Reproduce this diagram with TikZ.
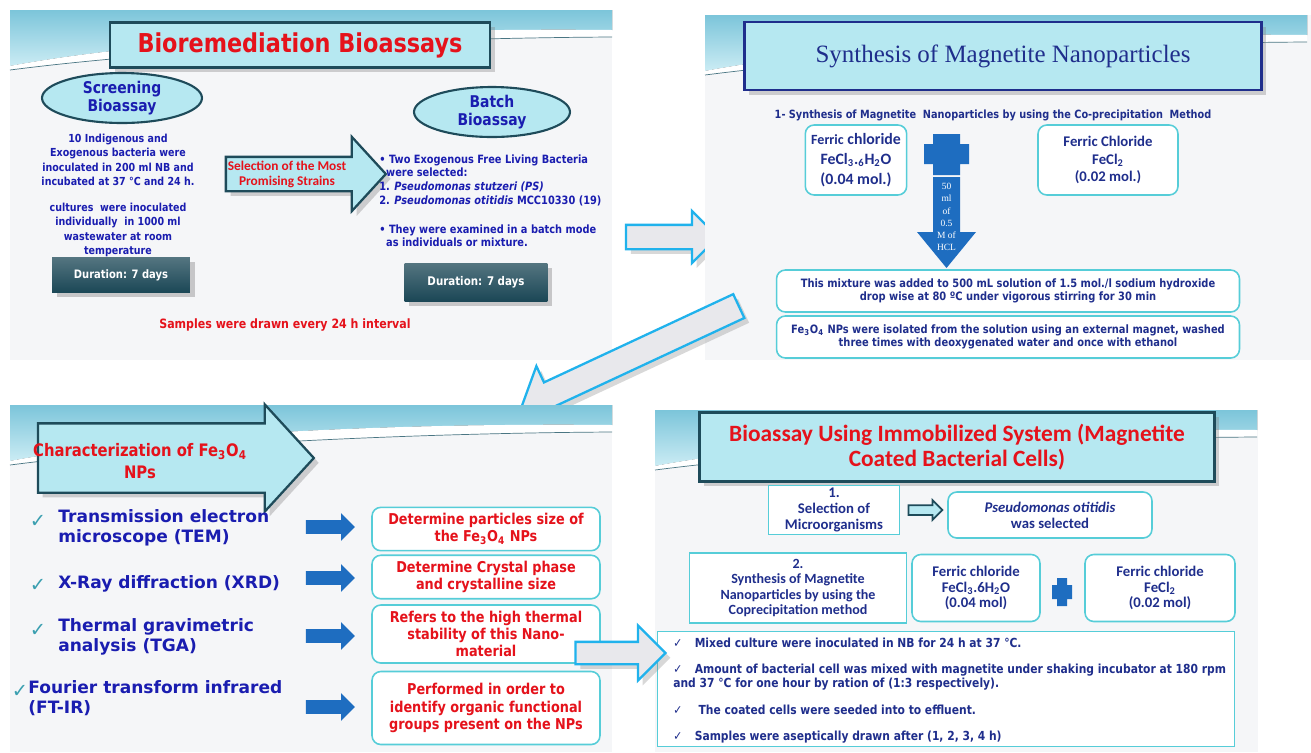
\documentclass[tikz,border=0pt]{standalone}
\usepackage{fontspec}
\setmainfont{DejaVu Sans}
\newfontfamily\tahfont[FakeStretch=0.86]{DejaVu Sans}
\newfontfamily\verfont{DejaVu Sans}
\newfontfamily\calfont{Carlito}
\newfontfamily\camfont{Liberation Serif}
\usetikzlibrary{shapes.geometric,shapes.arrows,shadows}

\definecolor{panelgray}{HTML}{F5F6F8}
\definecolor{wavetop}{HTML}{7CC5DA}
\definecolor{wavebot}{HTML}{CBECF4}
\definecolor{titlecyan}{HTML}{B6E8F1}
\definecolor{darkteal}{HTML}{1E4B5A}
\definecolor{durteal}{HTML}{1B4756}
\definecolor{boxcyan}{HTML}{56CDD8}
\definecolor{textblue}{HTML}{1A1DB0}
\definecolor{navyblue}{HTML}{1F2E8C}
\definecolor{textred}{HTML}{E5121B}
\definecolor{arrowblue}{HTML}{1E6DC0}
\definecolor{arrowgray}{HTML}{E8E8EC}
\definecolor{arrowcyan}{HTML}{20B2EC}
\definecolor{checkteal}{HTML}{3A9FB0}

\newcommand\tahsize[2]{\tahfont\bfseries\fontsize{#1}{#2}\selectfont}
\newcommand\versize[2]{\verfont\bfseries\fontsize{#1}{#2}\selectfont}
\newcommand\calsize[2]{\calfont\bfseries\fontsize{#1}{#2}\selectfont}
\newcommand\camsize[2]{\camfont\fontsize{#1}{#2}\selectfont}

% wave band on top of each slide
\newcommand\panelwave[1]{%
\begin{scope}[shift={#1}]
\fill[top color=wavetop, bottom color=wavebot] (0,0) -- (602,0) -- (602,20) .. controls (420,18) and (160,26) .. (0,56) -- cycle;
\fill[white] (0,56) .. controls (160,26) and (420,18) .. (602,20) -- (602,27) .. controls (420,28) and (170,38) .. (0,60) -- cycle;
\draw[wavetop!60!black, line width=0.4pt] (0,60) .. controls (170,38) and (420,28) .. (602,27);
\end{scope}}

\tikzset{
  panelbg/.style={fill=panelgray},
  titlebox/.style={draw=darkteal, line width=1.6pt, fill=titlecyan, align=center,
    drop shadow={opacity=0.35}},
  ovalbox/.style={ellipse, draw=darkteal, line width=1.2pt, fill=titlecyan, inner sep=0pt,
    text=textblue, align=center, font=\tahsize{9.2}{9.8}},
  durbox/.style={top color=durteal!75!white, bottom color=durteal, text=white, drop shadow={opacity=0.4}},
  infobox/.style={draw=boxcyan, line width=0.9pt, rounded corners=5pt, fill=white, align=center},
  sqbox/.style={draw=boxcyan, line width=0.9pt, fill=white, align=center},
  bluetxt/.style={text=textblue, align=center},
  redtxt/.style={text=textred, align=center},
  blockarrow/.style={single arrow, fill=arrowblue, inner sep=0.13cm,
    single arrow head extend=0.14cm, minimum height=0.98cm},
  hollowarrow/.style={single arrow, draw=arrowcyan, fill=arrowgray, line width=1.3pt,
    drop shadow={opacity=0.3}},
  cyanarrow/.style={single arrow, draw=darkteal, fill=titlecyan, line width=1.3pt,
    single arrow tip angle=95, inner xsep=0pt, drop shadow={opacity=0.35}},
}

\begin{document}
\begin{tikzpicture}[x=0.02cm,y=-0.02cm]
\useasboundingbox[fill=white] (0,0) rectangle (1311,752);

% slide 1: bioremediation bioassays
\fill[panelbg] (10,10) rectangle (612,360);
\panelwave{(10,10)}
\node[titlebox, minimum width=7.6cm, minimum height=0.9cm, text=textred, font=\tahsize{14.8}{16}] (bioTitle) at (300,45) {Bioremediation Bioassays};
\node[ovalbox, minimum width=3.2cm, minimum height=1cm] (screen) at (122,98) {Screening\\Bioassay};
\node[bluetxt, font=\tahsize{6.3}{8.2}] (screenTxt) at (118,160) {10 Indigenous and\\Exogenous bacteria were\\inoculated in 200 ml NB and\\incubated at 37 °C and 24 h.};
\node[bluetxt, font=\tahsize{6.3}{8.2}] (cultTxt) at (118,230) {cultures\ \ were inoculated\\individually\ \ in 1000 ml\\wastewater at room\\temperature};
\node[durbox, minimum width=2.76cm, minimum height=0.7cm, font=\tahsize{6.6}{7.5}] (dur1) at (121,275) {Duration: 7 days};
\node[cyanarrow, minimum height=3.2cm, inner ysep=0.32cm, single arrow head extend=0.4cm] (selArrow) at (298,174) {};
\node[redtxt, font=\calsize{7.6}{8.6}] (selTxt) at (287,174) {Selection of the Most\\Promising Strains};
\node[ovalbox, minimum width=3.12cm, minimum height=1cm] (batch) at (492,112) {Batch\\Bioassay};
\node[text=textblue, align=left, anchor=north west, inner sep=0pt, font=\tahsize{6.5}{7.9}] (batchTxtA) at (379,154) {• Two Exogenous Free Living Bacteria\\\hspace*{0.6em}were selected:\\1. \textit{Pseudomonas stutzeri (PS)}\\2. \textit{Pseudomonas otitidis} MCC10330 (19)};
\node[text=textblue, align=left, anchor=north west, inner sep=0pt, font=\tahsize{6.5}{7.9}] (batchTxtB) at (379,224) {• They were examined in a batch mode\\\hspace*{0.6em}as individuals or mixture.};
\node[durbox, minimum width=2.86cm, minimum height=0.76cm, font=\tahsize{6.8}{8}] (dur2) at (476,282) {Duration: 7 days};
\node[redtxt, font=\tahsize{7.3}{8}] (samplesTxt) at (285,325) {Samples were drawn every 24 h interval};

% arrow to slide 2
\node[hollowarrow, minimum height=1.84cm, inner sep=0.22cm, single arrow head extend=0.28cm] (arrA) at (666,237) {};

% slide 2: synthesis of magnetite
\fill[panelbg] (705,15) rectangle (1311,360);
\panelwave{(705,15)}
\node[titlebox, draw=navyblue, minimum width=10.34cm, minimum height=1.36cm, text=navyblue, font=\camsize{14.2}{16}] (synTitle) at (1003,56) {Synthesis of Magnetite Nanoparticles};
\node[text=navyblue, font=\tahsize{6.45}{7}] (synSub) at (993,115) {1- Synthesis of Magnetite\ \ Nanoparticles by using the Co-precipitation\ \ Method};
\node[infobox, minimum width=1.92cm, minimum height=1.4cm, text=navyblue, font=\calsize{9}{11.2}] (feThree) at (856,160) {{\fontsize{8}{11.2}\selectfont Ferric} chloride\\FeCl\textsubscript{3}.\textsubscript{6}H\textsubscript{2}O\\(0.04 mol.)};
\fill[arrowblue] (933,134) -- (960,134) -- (960,144) -- (969,144) -- (969,164) -- (960,164) -- (960,175) -- (933,175) -- (933,164) -- (924,164) -- (924,144) -- (933,144) -- cycle;
\fill[arrowblue] (933,177) -- (960,177) -- (960,232) -- (976,232) -- (946.5,268) -- (917,232) -- (933,232) -- cycle;
\node[text=white, align=center, font=\camsize{5.4}{6.9}] (hclTxt) at (946.5,217) {50\\ml\\of\\0.5\\M of\\HCL};
\node[infobox, minimum width=2.8cm, minimum height=1.4cm, text=navyblue, font=\calsize{8.4}{9.8}] (feTwo) at (1108,160) {Ferric Chloride\\FeCl\textsubscript{2}\\(0.02 mol.)};
\node[infobox, minimum width=9.26cm, minimum height=0.84cm, text=navyblue, font=\tahsize{6.55}{7.7}] (mixBox) at (1008,291) {This mixture was added to 500 mL solution of 1.5 mol./l sodium hydroxide\\drop wise at 80 ºC under vigorous stirring for 30 min};
\node[infobox, minimum width=9.26cm, minimum height=0.84cm, text=navyblue, font=\tahsize{6.55}{7.7}] (isoBox) at (1008,337) {Fe\textsubscript{3}O\textsubscript{4} NPs were isolated from the solution using an external magnet, washed\\three times with deoxygenated water and once with ethanol};

% arrow to slide 3
\node[hollowarrow, rotate=205, minimum height=4.8cm, inner sep=0.24cm, single arrow head extend=0.36cm] (arrB) at (636,354) {};

% slide 3: characterization
\fill[panelbg] (10,405) rectangle (612,752);
\panelwave{(10,405)}
\node[cyanarrow, minimum height=5.52cm, inner ysep=0.67cm, single arrow head extend=0.38cm] (charArrow) at (160,458) {};
\node[redtxt, font=\tahsize{9.8}{12.5}] (charTxt) at (140,461) {Characterization of Fe\textsubscript{3}O\textsubscript{4}\\NPs};
\node[text=checkteal, font=\versize{11}{12}] (chkA) at (38,521) {✓};
\node[text=checkteal, font=\versize{11}{12}] (chkB) at (38,585) {✓};
\node[text=checkteal, font=\versize{11}{12}] (chkC) at (38,630) {✓};
\node[text=checkteal, font=\versize{11}{12}] (chkD) at (20,691) {✓};
\node[text=textblue, align=left, anchor=north west, inner sep=0pt, font=\versize{9.7}{11.6}] (itemA) at (58,509) {Transmission electron\\microscope (TEM)};
\node[text=textblue, align=left, anchor=north west, inner sep=0pt, font=\versize{9.7}{11.6}] (itemB) at (58,575) {X-Ray diffraction (XRD)};
\node[text=textblue, align=left, anchor=north west, inner sep=0pt, font=\versize{9.7}{11.6}] (itemC) at (58,618) {Thermal gravimetric\\analysis (TGA)};
\node[text=textblue, align=left, anchor=north west, inner sep=0pt, font=\versize{9.7}{11.6}] (itemD) at (28,680) {Fourier transform infrared\\(FT-IR)};
\node[blockarrow] (bArA) at (327,527) {};
\node[blockarrow] (bArB) at (327,578) {};
\node[blockarrow] (bArC) at (327,636) {};
\node[blockarrow] (bArD) at (327,707) {};
\node[infobox, minimum width=4.56cm, minimum height=0.78cm, text=textred, font=\tahsize{8.5}{9.8}] (resA) at (486,529) {Determine particles size of\\the Fe\textsubscript{3}O\textsubscript{4} NPs};
\node[infobox, minimum width=4.56cm, minimum height=0.82cm, text=textred, font=\tahsize{8.5}{9.8}] (resB) at (486,577) {Determine Crystal phase\\and crystalline size};
\node[infobox, minimum width=4.56cm, minimum height=1.16cm, text=textred, font=\tahsize{8.5}{9.8}] (resC) at (486,634) {Refers to the high thermal\\stability of this Nano-\\material};
\node[infobox, minimum width=4.56cm, minimum height=1.46cm, text=textred, font=\tahsize{8.5}{10}] (resD) at (486,708) {Performed in order to\\identify organic functional\\groups present on the NPs};

% slide 4: immobilized system
\fill[panelbg] (655,410) rectangle (1258,752);
\panelwave{(655,410)}
\node[titlebox, minimum width=10.3cm, minimum height=1.38cm, text=textred, font=\calsize{13.3}{14.7}] (immTitle) at (957,447) {Bioassay Using Immobilized System (Magnetite\\Coated Bacterial Cells)};
\node[sqbox, minimum width=2.62cm, minimum height=0.98cm, inner sep=1pt, text=navyblue, font=\calsize{8.4}{8.9}] (selBox) at (834,510) {1.\\Selection of\\Microorganisms};
\node[single arrow, draw=darkteal, fill=titlecyan, line width=1pt, minimum height=0.68cm, inner sep=0.08cm, single arrow head extend=0.1cm] (selArrowB) at (923,510) {};
\node[infobox, minimum width=4.08cm, minimum height=0.92cm, text=navyblue, font=\calsize{8.4}{9}] (otiBox) at (1050,515) {\textit{Pseudomonas otitidis}\\was selected};
\node[sqbox, minimum width=4.34cm, minimum height=1.34cm, text=navyblue, font=\calsize{8}{8.8}] (synBox) at (798,588) {2.\\Synthesis of Magnetite\\Nanoparticles by using the\\Coprecipitation method};
\node[infobox, minimum width=2.56cm, minimum height=1.34cm, text=navyblue, font=\calsize{8.4}{9}] (feThreeB) at (976,588) {Ferric chloride\\FeCl\textsubscript{3}.6H\textsubscript{2}O\\(0.04 mol)};
\fill[arrowblue] (1057,578) -- (1067,578) -- (1067,585) -- (1072,585) -- (1072,599) -- (1067,599) -- (1067,606) -- (1057,606) -- (1057,599) -- (1052,599) -- (1052,585) -- (1057,585) -- cycle;
\node[infobox, minimum width=3cm, minimum height=1.34cm, text=navyblue, font=\calsize{8.4}{9}] (feTwoB) at (1160,588) {Ferric chloride\\FeCl\textsubscript{2}\\(0.02 mol)};
\node[sqbox, minimum width=11.54cm, minimum height=2.3cm] (stepsBox) at (946,689) {};
\node[text=navyblue, anchor=west, inner sep=0pt, font=\tahsize{7.1}{8}] (stepA) at (673,643) {✓\quad Mixed culture were inoculated in NB for 24 h at 37 °C.};
\node[text=navyblue, anchor=west, align=left, inner sep=0pt, font=\tahsize{7.1}{8}] (stepB) at (673,677) {✓\quad Amount of bacterial cell was mixed with magnetite under shaking incubator at 180 rpm\\and 37 °C for one hour by ration of (1:3 respectively).};
\node[text=navyblue, anchor=west, inner sep=0pt, font=\tahsize{7.1}{8}] (stepC) at (673,710) {✓\quad\ The coated cells were seeded into to effluent.};
\node[text=navyblue, anchor=west, inner sep=0pt, font=\tahsize{7.1}{8}] (stepD) at (673,737) {✓\quad Samples were aseptically drawn after (1, 2, 3, 4 h)};

% arrow to slide 4
\node[hollowarrow, minimum height=1.8cm, inner sep=0.2cm, single arrow head extend=0.33cm] (arrC) at (615,653) {};
\end{tikzpicture}
\end{document}
